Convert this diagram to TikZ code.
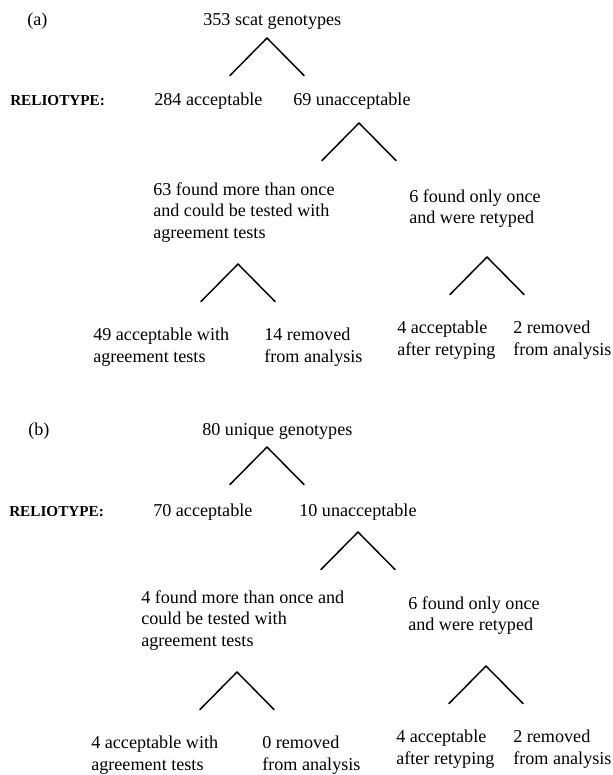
\documentclass[tikz,border=0pt]{standalone}
\usepackage{fontspec}
\setmainfont{Liberation Serif}
\begin{document}
\begin{tikzpicture}[x=0.75pt, y=-0.75pt, line join=round, line cap=round,
		font=\fontsize{13.6}{16.2}\selectfont,
		lbl/.style={anchor=base west, inner sep=0pt},
		blk/.style={anchor=north west, align=left, inner sep=0pt},
		tag/.style={anchor=base west, inner sep=0pt, font=\fontsize{11.4}{13}\selectfont\bfseries},
		forkline/.style={line width=1.1pt}]
			\def\dx{37}
			\def\dy{37.5}
			\useasboundingbox (0,0) rectangle (613,775);
			% panel (a)
			\node[lbl] (pa) at (27,25) {(a)};
			\node[lbl] (alla) at (203,25) {353 scat genotypes};
			\node[tag] (taga) at (10,105) {RELIOTYPE:};
			\node[lbl] (acca) at (154,105) {284 acceptable};
			\node[lbl] (unacca) at (293,105) {69 unacceptable};
			\node[blk] (multia) at (153,182) {63 found more than once\\and could be tested with\\agreement tests};
			\node[blk] (oncea) at (409,189) {6 found only once\\and were retyped};
			\node[blk] (agreea) at (93,328) {49 acceptable with\\agreement tests};
			\node[blk] (remla) at (264,328) {14 removed\\from analysis};
			\node[blk] (retypa) at (397,321) {4 acceptable\\after retyping};
			\node[blk] (remra) at (513,321) {2 removed\\from analysis};
			\coordinate (ka1) at (267,38);
			\coordinate (ka2) at (359,123);
			\coordinate (ka3) at (238,264);
			\coordinate (ka4) at (487,257);
			\foreach \k in {ka1,ka2,ka3,ka4}
				\draw[forkline] (\k) ++(-\dx,\dy) -- (\k) -- ++(\dx,\dy);
			% panel (b)
			\node[lbl] (pb) at (28,435) {(b)};
			\node[lbl] (allb) at (202,435) {80 unique genotypes};
			\node[tag] (tagb) at (9,516) {RELIOTYPE:};
			\node[lbl] (accb) at (153,516) {70 acceptable};
			\node[lbl] (unaccb) at (299,516) {10 unacceptable};
			\node[blk] (multib) at (141,590) {4 found more than once and\\could be tested with\\agreement tests};
			\node[blk] (onceb) at (408,596) {6 found only once\\and were retyped};
			\node[blk] (agreeb) at (91,736) {4 acceptable with\\agreement tests};
			\node[blk] (remlb) at (262,736) {0 removed\\from analysis};
			\node[blk] (retypb) at (396,730) {4 acceptable\\after retyping};
			\node[blk] (remrb) at (513,730) {2 removed\\from analysis};
			\coordinate (kb1) at (267,447);
			\coordinate (kb2) at (358,532);
			\coordinate (kb3) at (237,672);
			\coordinate (kb4) at (486,666);
			\foreach \k in {kb1,kb2,kb3,kb4}
				\draw[forkline] (\k) ++(-\dx,\dy) -- (\k) -- ++(\dx,\dy);
		\end{tikzpicture}
\end{document}
